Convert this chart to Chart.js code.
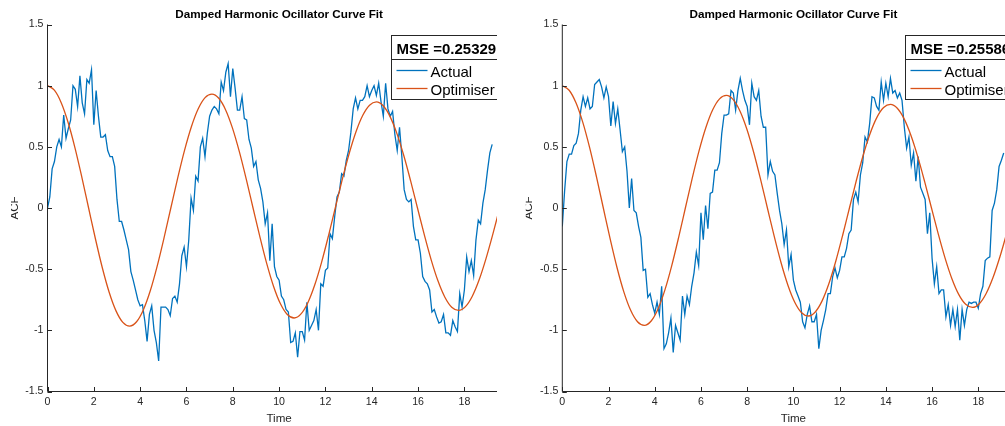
<!DOCTYPE html>
<html>
<head>
<meta charset="utf-8">
<script src="https://cdn.jsdelivr.net/npm/chart.js@4.4.1/dist/chart.umd.min.js"></script>
<style>
  html, body { margin: 0; padding: 0; background: #fff; width: 1005px; height: 426px; overflow: hidden; }
  .panel { position: absolute; top: 0; height: 426px; overflow: hidden; }
  .panel canvas { position: absolute; left: 0; top: 0; }
  #leftPanel { left: 0; width: 497px; }
  #rightPanel { left: 505px; width: 500px; }
</style>
</head>
<body>
<div class="panel" id="leftPanel"><canvas id="leftChart" width="530" height="426"></canvas></div>
<div class="panel" id="rightPanel"><canvas id="rightChart" width="540" height="426"></canvas></div>
<script>
const timeStep = 0.1;
const fitStep = 7.1 / 24;

const actualLeft = [
  0, 0.09, 0.32, 0.38, 0.5, 0.56, 0.5, 0.76,
  0.57, 0.65, 0.72, 1.0, 0.97, 0.83, 1.08, 0.86, 0.77, 1.05,
  1.02, 1.13, 0.68, 0.96, 0.75, 0.58, 0.58, 0.6, 0.47, 0.42,
  0.42, 0.34, 0.07, -0.11, -0.11, -0.18, -0.26, -0.34, -0.52, -0.59,
  -0.67, -0.75, -0.8, -0.79, -0.92, -1.09, -0.87, -0.8, -1.0, -1.1,
  -1.25, -0.81, -0.81, -0.81, -0.83, -0.88, -0.74, -0.72, -0.77, -0.62,
  -0.39, -0.32, -0.48, -0.26, 0.08, -0.02, 0.26, 0.22, 0.5, 0.57,
  0.42, 0.61, 0.75, 0.8, 0.83, 0.81, 0.77, 1.03, 0.96, 1.11,
  1.18, 0.91, 1.14, 0.98, 0.8, 0.8, 0.91, 0.73, 0.72, 0.56,
  0.49, 0.34, 0.38, 0.23, 0.16, 0.05, -0.13, -0.04, -0.43, -0.13,
  -0.48, -0.56, -0.59, -0.72, -0.75, -0.83, -0.85, -1.1, -1.09, -1.02,
  -1.22, -1.01, -1.01, -1.08, -0.77, -1.0, -0.96, -0.92, -0.83, -1.0,
  -0.62, -0.64, -0.51, -0.49, -0.21, -0.25, -0.07, 0.09, 0.13, 0.28,
  0.26, 0.39, 0.47, 0.62, 0.81, 0.9, 0.81, 0.88, 0.88, 0.91,
  1.0, 0.91, 0.96, 1.0, 0.92, 1.02, 0.87, 0.75, 1.02, 0.81,
  0.75, 0.79, 0.6, 0.47, 0.66, 0.42, 0.15, 0.07, 0.05, 0.07,
  -0.15, -0.26, -0.26, -0.37, -0.56, -0.6, -0.62, -0.67, -0.85, -0.83,
  -0.89, -0.94, -0.93, -0.87, -1.02, -1.02, -1.04, -0.92, -0.97, -1.01,
  -0.7, -0.81, -0.67, -0.4, -0.52, -0.43, -0.55, -0.26, -0.1, -0.13,
  0.04, 0.15, 0.31, 0.45, 0.52
];

const actualRight = [
  -0.15, 0.14, 0.38, 0.44, 0.44, 0.51, 0.53, 0.61,
  0.8, 0.91, 0.83, 0.9, 0.81, 0.83, 1.01, 1.03, 1.05, 0.99,
  0.9, 0.99, 0.91, 0.67, 0.87, 0.69, 0.81, 0.64, 0.46, 0.5,
  0.3, 0.0, 0.24, -0.02, -0.04, -0.15, -0.24, -0.51, -0.5, -0.73,
  -0.7, -0.79, -0.86, -0.77, -0.87, -0.64, -1.15, -1.11, -1.02, -0.9,
  -1.18, -0.96, -1.02, -1.08, -0.72, -0.87, -0.72, -0.79, -0.64, -0.53,
  -0.36, -0.47, -0.04, -0.26, 0.02, -0.17, 0.12, 0.13, 0.31, 0.31,
  0.37, 0.61, 0.76, 0.76, 0.77, 0.96, 0.94, 0.8, 0.96, 1.06,
  0.96, 0.88, 0.83, 0.68, 1.02, 0.91, 0.88, 0.96, 0.75, 0.66,
  0.66, 0.27, 0.38, 0.3, 0.27, 0.12, -0.02, -0.13, -0.3, -0.18,
  -0.48, -0.38, -0.59, -0.67, -0.72, -0.77, -0.93, -0.98, -0.87, -0.8,
  -0.93, -0.93, -0.87, -1.15, -1.0, -0.92, -0.83, -0.7, -0.7, -0.56,
  -0.49, -0.57, -0.51, -0.4, -0.4, -0.33, -0.21, -0.18, 0.07, 0.13,
  0.05, 0.27, 0.37, 0.58, 0.54, 0.69, 0.91, 0.9, 0.83, 0.8,
  1.03, 0.88, 1.02, 0.91, 1.06, 0.94, 0.96, 0.9, 0.94, 0.88,
  0.66, 0.49, 0.58, 0.35, 0.45, 0.22, 0.42, 0.17, 0.12, 0.07,
  -0.21, -0.04, -0.41, -0.62, -0.48, -0.7, -0.67, -0.67, -0.89, -0.79,
  -0.96, -0.83, -0.97, -0.83, -1.08, -0.83, -0.96, -0.83, -0.77, -0.78,
  -0.77, -0.77, -0.82, -0.7, -0.64, -0.43, -0.41, -0.4, -0.02, 0.04,
  0.15, 0.34, 0.39, 0.45
];

const fitLeft = [
  1, 0.963, 0.8609, 0.7008, 0.4941, 0.255, 0, -0.2535, -0.4883, -0.6885, -0.8408, -0.935,
  -0.9651, -0.9295, -0.8309, -0.6764, -0.4769, -0.2461, 0, 0.2447, 0.4713, 0.6645, 0.8114, 0.9024,
  0.9315, 0.897, 0.8019, 0.6528, 0.4602, 0.2375, 0, -0.2361, -0.4548, -0.6413, -0.7831, -0.8709,
  -0.899, -0.8657, -0.7739, -0.63, -0.4442, -0.2292, 0, 0.2279, 0.439, 0.619, 0.7558, 0.8405,
  0.8676, 0.8355, 0.7469, 0.6081, 0.4287, 0.2212, 0, -0.2199, -0.4237, -0.5974, -0.7294, -0.8112,
  -0.8373, -0.8064, -0.7209, -0.5869, -0.4137, -0.2135, 0, 0.2123, 0.4089
];

const fitRight = [
  1, 0.9626, 0.86, 0.6998, 0.4931, 0.2544, 0, -0.2526, -0.4863, -0.6854, -0.8365, -0.9298,
  -0.9593, -0.9234, -0.825, -0.6713, -0.4731, -0.244, 0, 0.2423, 0.4666, 0.6575, 0.8025, 0.892,
  0.9203, 0.8858, 0.7915, 0.644, 0.4538, 0.2341, 0, -0.2325, -0.4476, -0.6308, -0.7699, -0.8557,
  -0.8829, -0.8498, -0.7593, -0.6178, -0.4354, -0.2246, 0, 0.223, 0.4294, 0.6051, 0.7385, 0.8209,
  0.8469, 0.8152, 0.7284, 0.5927, 0.4176, 0.2154, 0, -0.2139, -0.4119, -0.5805, -0.7085, -0.7875,
  -0.8125, -0.7821, -0.6987, -0.5686, -0.4007, -0.2067, 0, 0.2052, 0.3951
];

const xTicks = [0, 2, 4, 6, 8, 10, 12, 14, 16, 18, 20];
const xTickLabels = ['0', '2', '4', '6', '8', '10', '12', '14', '16', '18', '20'];
const yTicks = [-1.5, -1, -0.5, 0, 0.5, 1, 1.5];
const yTickLabels = ['-1.5', '-1', '-0.5', '0', '0.5', '1', '1.5'];
const seriesNames = ['Actual', 'Optimiser'];
const mseLeft = '0.25329';
const mseRight = '0.25586';

const FONT = '"Liberation Sans", Arial, Helvetica, sans-serif';
const BLUE = '#0072BD';
const ORANGE = '#D95319';
const AXIS = '#262626';

// MATLAB-like axes, ticks, labels and legend box
const matlabAxes = {
  id: 'matlabAxes',
  afterDatasetsDraw(chart, args, opts) {
    const { ctx, chartArea: a } = chart;
    const xs = chart.scales.x, ys = chart.scales.y;
    ctx.save();

    ctx.strokeStyle = AXIS;
    ctx.lineWidth = 1;
    ctx.beginPath();
    ctx.moveTo(a.left, a.top);
    ctx.lineTo(a.left, a.bottom);
    ctx.lineTo(a.right, a.bottom);
    ctx.stroke();

    ctx.beginPath();
    xTicks.forEach(v => {
      const px = Math.round(xs.getPixelForValue(v)) + 0.5;
      ctx.moveTo(px, a.bottom);
      ctx.lineTo(px, a.bottom - 4.5);
    });
    yTicks.forEach(v => {
      const py = Math.round(ys.getPixelForValue(v)) + 0.5;
      ctx.moveTo(a.left, py);
      ctx.lineTo(a.left + 4.5, py);
    });
    ctx.stroke();

    ctx.fillStyle = AXIS;
    ctx.font = '10.6px ' + FONT;
    ctx.textAlign = 'center';
    ctx.textBaseline = 'middle';
    xTicks.forEach((v, i) => ctx.fillText(xTickLabels[i], xs.getPixelForValue(v), a.bottom + 11));
    ctx.textAlign = 'right';
    yTicks.forEach((v, i) => ctx.fillText(yTickLabels[i], a.left - 4, ys.getPixelForValue(v)));

    const midX = (a.left + a.right) / 2;
    ctx.font = '11.6px ' + FONT;
    ctx.textAlign = 'center';
    ctx.fillText('Time', midX, a.bottom + 27);

    // y label, cut at the left like the figure export
    ctx.save();
    ctx.beginPath();
    ctx.rect(a.left - 36.5, 0, 40, chart.height);
    ctx.clip();
    ctx.translate(a.left - 30, (a.top + a.bottom) / 2);
    ctx.rotate(-Math.PI / 2);
    ctx.textBaseline = 'alphabetic';
    ctx.fillText('ACF', 0, 0);
    ctx.restore();

    ctx.fillStyle = '#000';
    ctx.font = 'bold 11.7px ' + FONT;
    ctx.textBaseline = 'middle';
    ctx.fillText('Damped Harmonic Ocillator Curve Fit', midX, 15);

    // legend
    const bx = Math.round(a.right - 119.7) + 0.5;
    const by = 35.5;
    ctx.fillStyle = '#fff';
    ctx.fillRect(bx, by, 113, 64);
    ctx.strokeStyle = AXIS;
    ctx.strokeRect(bx, by, 113, 64);
    ctx.beginPath();
    ctx.moveTo(bx, 59.5);
    ctx.lineTo(bx + 113, 59.5);
    ctx.stroke();

    ctx.textAlign = 'left';
    ctx.textBaseline = 'alphabetic';
    ctx.fillStyle = '#000';
    ctx.font = 'bold 15px ' + FONT;
    ctx.fillText('MSE =' + opts.mse, bx + 5, 53.5);

    ctx.font = '15px ' + FONT;
    [[BLUE, 70.5, 76.5], [ORANGE, 88.5, 94.5]].forEach(([col, ly, ty], i) => {
      ctx.strokeStyle = col;
      ctx.lineWidth = 1.3;
      ctx.beginPath();
      ctx.moveTo(bx + 5, ly);
      ctx.lineTo(bx + 36, ly);
      ctx.stroke();
      ctx.fillStyle = '#000';
      ctx.fillText(seriesNames[i], bx + 39, ty);
    });

    ctx.restore();
  }
};

function makeChart(id, actual, fit, mse, padLeft, padRight) {
  const ctx = document.getElementById(id).getContext('2d');
  new Chart(ctx, {
    type: 'line',
    data: {
      datasets: [
        {
          label: seriesNames[0],
          data: actual.map((v, i) => ({ x: i * timeStep, y: v })),
          borderColor: BLUE,
          borderWidth: 1.3,
          pointRadius: 0,
          tension: 0,
          order: 1
        },
        {
          label: seriesNames[1],
          data: fit.map((v, i) => ({ x: i * fitStep, y: v })),
          borderColor: ORANGE,
          borderWidth: 1.3,
          pointRadius: 0,
          cubicInterpolationMode: 'monotone',
          order: 0
        }
      ]
    },
    options: {
      responsive: false,
      animation: false,
      events: [],
      layout: { padding: { left: padLeft, right: padRight, top: 24.5, bottom: 34.5 } },
      scales: {
        x: { type: 'linear', min: 0, max: 20, display: false },
        y: { type: 'linear', min: -1.5, max: 1.5, display: false }
      },
      plugins: {
        legend: { display: false },
        tooltip: { enabled: false },
        matlabAxes: { mse: mse }
      }
    },
    plugins: [matlabAxes]
  });
}

document.addEventListener('DOMContentLoaded', function () {
  makeChart('leftChart', actualLeft, fitLeft, mseLeft, 47.5, 530 - 510.7);
  makeChart('rightChart', actualRight, fitRight, mseRight, 57.3, 540 - 519.5);
});
</script>
</body>
</html>
